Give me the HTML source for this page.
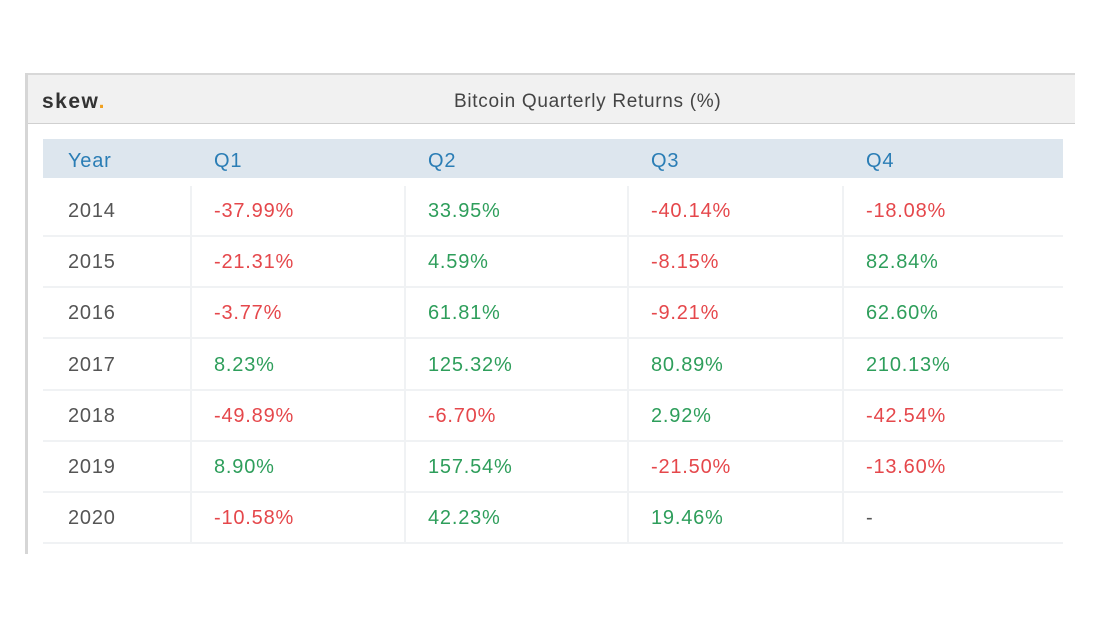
<!DOCTYPE html>
<html><head><style>
body{margin:0;width:1100px;height:628px;background:#fff;position:relative;font-family:"Liberation Sans",sans-serif;overflow:hidden}
.a{position:absolute}
.t{position:absolute;font-size:20px;letter-spacing:0.8px;line-height:20px;white-space:nowrap}
.r{color:#e5474b}.g{color:#2e9e5b}.y{color:#555}.h{color:#2a7db5}
</style></head><body>
<div class="a" style="left:25px;top:73px;width:1050px;height:2px;background:#d8d8d8"></div>
<div class="a" style="left:25px;top:73px;width:3px;height:481px;background:#d6d6d6"></div>
<div class="a" style="left:28px;top:75px;width:1047px;height:48px;background:#f1f1f1;border-bottom:1px solid #d0d0d0"></div>
<div class="t" style="left:42px;top:92px;font-size:21px;font-weight:bold;color:#333;letter-spacing:1.5px">skew<span style="color:#f0a020">.</span></div>
<div class="t" style="left:454px;top:92px;font-size:19px;letter-spacing:0.7px;color:#444">Bitcoin Quarterly Returns (%)</div>
<div class="a" style="left:43px;top:139px;width:1020px;height:39px;background:#dde6ee"></div>
<div class="t h" style="left:68px;top:151px">Year</div>
<div class="t h" style="left:214px;top:151px">Q1</div>
<div class="t h" style="left:428px;top:151px">Q2</div>
<div class="t h" style="left:651px;top:151px">Q3</div>
<div class="t h" style="left:866px;top:151px">Q4</div>
<div class="a" style="left:190px;top:186px;width:2px;height:356px;background:#f0f2f4"></div>
<div class="a" style="left:404px;top:186px;width:2px;height:356px;background:#f0f2f4"></div>
<div class="a" style="left:627px;top:186px;width:2px;height:356px;background:#f0f2f4"></div>
<div class="a" style="left:842px;top:186px;width:2px;height:356px;background:#f0f2f4"></div>
<div id="rows"></div>
<script>
var d=[["2014","-37.99%","33.95%","-40.14%","-18.08%"],["2015","-21.31%","4.59%","-8.15%","82.84%"],["2016","-3.77%","61.81%","-9.21%","62.60%"],["2017","8.23%","125.32%","80.89%","210.13%"],["2018","-49.89%","-6.70%","2.92%","-42.54%"],["2019","8.90%","157.54%","-21.50%","-13.60%"],["2020","-10.58%","42.23%","19.46%","-"]];
var xs=[68,214,428,651,866],h="";
d.forEach(function(r,i){var cy=210+i*51.2;
h+='<div class="a" style="left:43px;top:'+Math.round(cy+25)+'px;width:1020px;height:2px;background:#f0f2f4"></div>';
r.forEach(function(v,j){var c=j==0?"y":(v=="-"?"y":(v[0]=="-"?"r":"g"));
h+='<div class="t '+c+'" style="left:'+xs[j]+'px;top:'+Math.round(cy-9)+'px">'+v+'</div>';});});
document.getElementById("rows").innerHTML=h;
</script>
</body></html>
